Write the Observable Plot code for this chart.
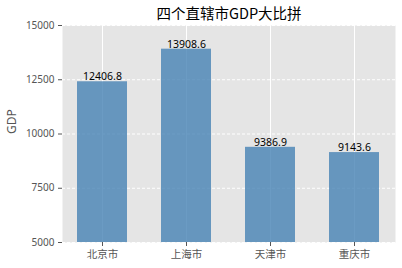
<!DOCTYPE html>
<html>
<head>
<meta charset="utf-8">
<script src="https://cdn.jsdelivr.net/npm/d3@7"></script>
<script src="https://cdn.jsdelivr.net/npm/@observablehq/plot@0.6"></script>
<style>
  body { margin: 0; background: #fff; }
  #chart svg { display: block; }
</style>
</head>
<body>
<div id="chart"></div>
<script>
const cities = ["北京市", "上海市", "天津市", "重庆市"];
const gdp = [12406.8, 13908.6, 9386.9, 9143.6];
const yTicks = [5000, 7500, 10000, 12500, 15000];
const title = "四个直辖市GDP大比拼";
const yLabel = "GDP";

const data = cities.map((c, i) => ({city: c, gdp: gdp[i]}));
const font = "'Noto Sans', 'Noto Sans CJK SC', sans-serif";

const chart = Plot.plot({
  width: 402,
  height: 268,
  marginTop: 25,
  marginBottom: 26,
  marginLeft: 62,
  marginRight: 7,
  style: {fontFamily: font, fontSize: "10px", background: "#fff", color: "#555"},
  x: {domain: cities, paddingInner: 0.4, paddingOuter: 0.18, label: null},
  y: {domain: [5000, 15000], label: null},
  marks: [
    Plot.frame({fill: "#e5e5e5", stroke: null}),
    Plot.gridX({stroke: "#fff", strokeOpacity: 1, strokeWidth: 1}),
    Plot.gridY(yTicks, {stroke: "#fff", strokeOpacity: 1, strokeWidth: 1, strokeDasharray: "3,2"}),
    Plot.barY(data, {x: "city", y1: () => 5000, y2: "gdp", fill: "steelblue", fillOpacity: 0.8}),
    Plot.text(data, {x: "city", y: "gdp", text: d => d.gdp.toFixed(1), lineAnchor: "bottom", dy: -1.5, fill: "#000", fontSize: 10.5}),
    Plot.axisX({tickSize: 4, tickPadding: 4, stroke: "#555", fill: "#555", fontSize: 10.5, label: null, fontFamily: "'Noto Sans CJK SC', sans-serif"}),
    Plot.axisY({ticks: yTicks, tickSize: 4, tickPadding: 4, tickFormat: d => String(d), stroke: "#555", fill: "#555", fontSize: 10, label: null}),
    Plot.text([yLabel], {frameAnchor: "left", dx: -50, rotate: -90, fill: "#555", fontSize: 12}),
    Plot.text([title], {frameAnchor: "top", dy: -11, lineAnchor: "middle", fill: "#000", fontSize: 14.5, fontFamily: "'Noto Sans CJK SC', sans-serif"})
  ]
});
document.getElementById("chart").appendChild(chart);
</script>
</body>
</html>
